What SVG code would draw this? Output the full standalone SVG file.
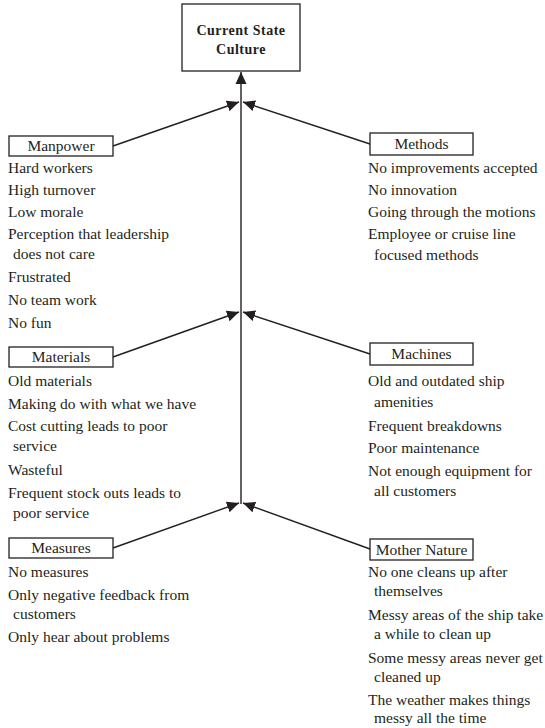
<svg xmlns="http://www.w3.org/2000/svg" width="545" height="728" viewBox="0 0 545 728">
  <style>
    text { font-family: "Liberation Serif", "Times New Roman", serif; fill: #231f20; }
    .title { font-size: 14px; font-weight: bold; letter-spacing: 0.5px; text-anchor: middle; }
    .label { font-size: 15.5px; text-anchor: middle; }
    .item { font-size: 15.5px; }
    .box { fill: #ffffff; stroke: #231f20; stroke-width: 1.3; }
    .conn { stroke: #231f20; stroke-width: 1.4; fill: none; marker-end: url(#head); }
  </style>
  <defs>
    <marker id="head" markerUnits="userSpaceOnUse" markerWidth="12" markerHeight="12" viewBox="0 0 12 12" refX="12" refY="6" orient="auto">
      <path d="M0,0.5 L12,6 L0,11.5 Z" fill="#231f20"/>
    </marker>
  </defs>

  <!-- connectors -->
  <g id="connectors">
    <line class="conn" x1="241" y1="504" x2="241" y2="72"/>
    <line class="conn" x1="113" y1="146" x2="239" y2="102"/>
    <line class="conn" x1="370" y1="144" x2="243" y2="102"/>
    <line class="conn" x1="113" y1="357" x2="239" y2="312"/>
    <line class="conn" x1="370" y1="354" x2="243" y2="312"/>
    <line class="conn" x1="113" y1="548" x2="239" y2="503"/>
    <line class="conn" x1="370" y1="549" x2="243" y2="503"/>
  </g>

  <!-- effect -->
  <g id="current-state-culture">
    <rect class="box" x="182" y="4" width="118" height="67"/>
    <text class="title" x="241" y="35">Current State</text>
    <text class="title" x="241" y="54">Culture</text>
  </g>

  <!-- causes: left column -->
  <g id="manpower">
    <rect class="box" x="9" y="136" width="104" height="20"/>
    <text class="label" x="61" y="151">Manpower</text>
    <text class="item" x="8" y="173">Hard workers</text>
    <text class="item" x="8" y="195">High turnover</text>
    <text class="item" x="8" y="217">Low morale</text>
    <text class="item" x="8" y="239">Perception that leadership</text>
    <text class="item" x="13" y="259">does not care</text>
    <text class="item" x="8" y="282">Frustrated</text>
    <text class="item" x="8" y="305">No team work</text>
    <text class="item" x="8" y="328">No fun</text>
  </g>

  <g id="materials">
    <rect class="box" x="9" y="347" width="104" height="20"/>
    <text class="label" x="61" y="362">Materials</text>
    <text class="item" x="8" y="386">Old materials</text>
    <text class="item" x="8" y="409">Making do with what we have</text>
    <text class="item" x="8" y="431">Cost cutting leads to poor</text>
    <text class="item" x="13" y="451">service</text>
    <text class="item" x="8" y="475">Wasteful</text>
    <text class="item" x="8" y="498">Frequent stock outs leads to</text>
    <text class="item" x="13" y="518">poor service</text>
  </g>

  <g id="measures">
    <rect class="box" x="9" y="538" width="104" height="20"/>
    <text class="label" x="61" y="553">Measures</text>
    <text class="item" x="8" y="577">No measures</text>
    <text class="item" x="8" y="600">Only negative feedback from</text>
    <text class="item" x="13" y="619">customers</text>
    <text class="item" x="8" y="642">Only hear about problems</text>
  </g>

  <!-- causes: right column -->
  <g id="methods">
    <rect class="box" x="370" y="133" width="103" height="22"/>
    <text class="label" x="421.5" y="149">Methods</text>
    <text class="item" x="368" y="173">No improvements accepted</text>
    <text class="item" x="368" y="195">No innovation</text>
    <text class="item" x="368" y="217">Going through the motions</text>
    <text class="item" x="368" y="239">Employee or cruise line</text>
    <text class="item" x="374" y="260">focused methods</text>
  </g>

  <g id="machines">
    <rect class="box" x="370" y="343" width="103" height="22"/>
    <text class="label" x="421.5" y="359">Machines</text>
    <text class="item" x="368" y="386">Old and outdated ship</text>
    <text class="item" x="374" y="407">amenities</text>
    <text class="item" x="368" y="431">Frequent breakdowns</text>
    <text class="item" x="368" y="453">Poor maintenance</text>
    <text class="item" x="368" y="476">Not enough equipment for</text>
    <text class="item" x="374" y="496">all customers</text>
  </g>

  <g id="mother-nature">
    <rect class="box" x="370" y="539" width="103" height="21"/>
    <text class="label" x="421.5" y="555">Mother Nature</text>
    <text class="item" x="368" y="577">No one cleans up after</text>
    <text class="item" x="374" y="596">themselves</text>
    <text class="item" x="368" y="620">Messy areas of the ship take</text>
    <text class="item" x="374" y="639">a while to clean up</text>
    <text class="item" x="368" y="663">Some messy areas never get</text>
    <text class="item" x="374" y="682">cleaned up</text>
    <text class="item" x="368" y="705">The weather makes things</text>
    <text class="item" x="374" y="723">messy all the time</text>
  </g>
</svg>
